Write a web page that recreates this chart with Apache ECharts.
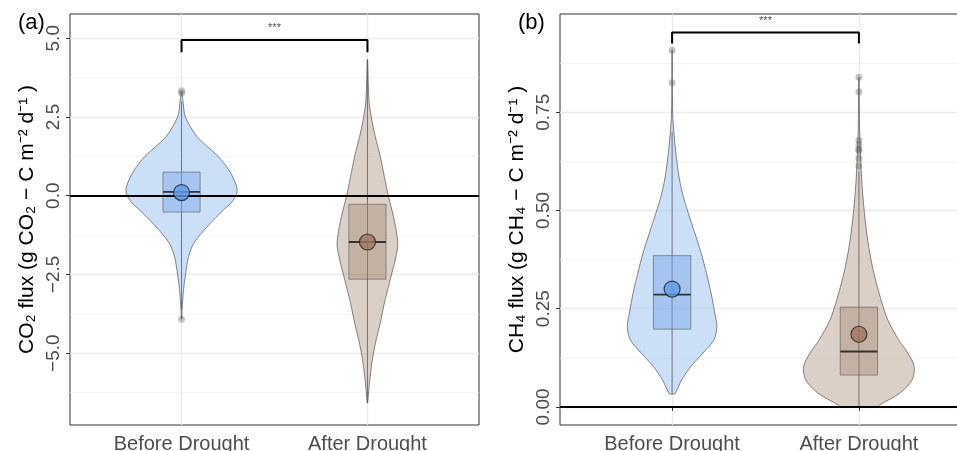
<!DOCTYPE html>
<html>
<head>
<meta charset="utf-8">
<script src="https://cdn.jsdelivr.net/npm/echarts@6/dist/echarts.min.js"></script>
<style>
  html, body { margin: 0; padding: 0; background: #fff; }
  #main { width: 957px; height: 451px; }
</style>
</head>
<body>
<div id="main"></div>
<script>
// categories
var categories = ['Before Drought', 'After Drought'];

// y axis ticks (major + minor grid)
var co2Ticks = [-5, -2.5, 0, 2.5, 5];
var co2MinorTicks = [-6.25, -3.75, -1.25, 1.25, 3.75];
var ch4Ticks = [0, 0.25, 0.5, 0.75];
var ch4MinorTicks = [0.125, 0.375, 0.625, 0.875];

// violin profiles: [flux value, half width in category units]
var co2BeforeDensity = [[3.3, 0.001], [3.0, 0.008], [2.52, 0.020], [1.88, 0.083], [1.25, 0.197], [0.83, 0.253],
  [0.5, 0.283], [0.24, 0.298], [0.05, 0.296], [-0.22, 0.268], [-0.44, 0.228], [-0.97, 0.140], [-1.5, 0.067],
  [-1.93, 0.038], [-2.56, 0.020], [-2.98, 0.011], [-3.62, 0.003], [-3.92, 0.001]];
var co2AfterDensity = [[4.32, 0.001], [3.05, 0.008], [2.52, 0.020], [1.88, 0.042], [1.25, 0.069], [0.61, 0.091],
  [-0.02, 0.113], [-0.66, 0.140], [-1.29, 0.160], [-1.61, 0.163], [-2.14, 0.145], [-2.77, 0.118],
  [-3.41, 0.091], [-4.04, 0.069], [-4.68, 0.043], [-5.31, 0.024], [-5.95, 0.011], [-6.58, 0.001]];
var ch4BeforeDensity = [[0.908, 0.001], [0.75, 0.003], [0.679, 0.013], [0.595, 0.034], [0.544, 0.055],
  [0.493, 0.087], [0.442, 0.122], [0.391, 0.156], [0.340, 0.184], [0.289, 0.209], [0.238, 0.229],
  [0.204, 0.240], [0.170, 0.223], [0.137, 0.165], [0.103, 0.101], [0.069, 0.052], [0.035, 0.018], [0.033, 0.014]];
var ch4AfterDensity = [[0.839, 0.001], [0.70, 0.004], [0.578, 0.015], [0.501, 0.028], [0.425, 0.047],
  [0.349, 0.076], [0.272, 0.119], [0.221, 0.155], [0.170, 0.214], [0.137, 0.262], [0.103, 0.296],
  [0.069, 0.285], [0.035, 0.219], [0.005, 0.111], [0.0, 0.10]];

// box stats: [x, low whisker, Q1, median, Q3, high whisker]
var co2Box = [[1, -3.62, -0.52, 0.12, 0.75, 3.0], [2, -6.58, -2.65, -1.47, -0.27, 4.32]];
var ch4Box = [[1, 0.033, 0.198, 0.286, 0.385, 0.70], [2, 0.0, 0.081, 0.141, 0.254, 0.60]];

// means
var co2Mean = [[1, 0.10], [2, -1.47]];
var ch4Mean = [[1, 0.300], [2, 0.185]];

// outliers
var co2Outliers = [[1, 3.25], [1, 3.33], [1, -3.92]];
var ch4Outliers = [[1, 0.908], [1, 0.825], [2, 0.839], [2, 0.802], [2, 0.679], [2, 0.667], [2, 0.656],
  [2, 0.652], [2, 0.633], [2, 0.613]];

// significance brackets
var co2Bracket = [[1, 4.556], [1, 4.946], [2, 4.946], [2, 4.556]];
var ch4Bracket = [[1, 0.925], [1, 0.953], [2, 0.953], [2, 0.925]];
var co2Star = [[1.5, 4.946]];
var ch4Star = [[1.5, 0.953]];

var violinFill = ['rgba(160,196,240,0.55)', 'rgba(190,170,155,0.55)'];
var boxFill = ['rgba(120,165,230,0.45)', 'rgba(160,130,110,0.4)'];
var meanFill = ['#5f9be6', '#9e7660'];

var chart = echarts.init(document.getElementById('main'));

function violinRender(profiles) {
	return function (params, api) {
		var x = api.value(0);
		var prof = profiles[params.dataIndex];
		var right = [], left = [];
		for (var i = 0; i < prof.length; i++) {
			right.push(api.coord([x + prof[i][1], prof[i][0]]));
			left.unshift(api.coord([x - prof[i][1], prof[i][0]]));
		}
		return {
			type: 'polygon',
			shape: { points: right.concat(left), smooth: 0.3 },
			style: { fill: violinFill[params.dataIndex], stroke: 'rgba(70,70,70,0.8)', lineWidth: 0.8 }
		};
	};
}

function boxRender(params, api) {
	var x = api.value(0);
	var w = 0.1;
	var lo = api.coord([x, api.value(1)]);
	var hi = api.coord([x, api.value(5)]);
	var q1l = api.coord([x - w, api.value(2)]);
	var q3r = api.coord([x + w, api.value(4)]);
	var ml = api.coord([x - w, api.value(3)]);
	var mr = api.coord([x + w, api.value(3)]);
	return {
		type: 'group',
		children: [{
			type: 'line',
			shape: { x1: lo[0], y1: lo[1], x2: hi[0], y2: hi[1] },
			style: { stroke: 'rgba(80,80,80,0.7)', lineWidth: 1 }
		}, {
			type: 'rect',
			shape: { x: q1l[0], y: q3r[1], width: q3r[0] - q1l[0], height: q1l[1] - q3r[1] },
			style: { fill: boxFill[params.dataIndex], stroke: 'rgba(80,80,80,0.55)', lineWidth: 1 }
		}, {
			type: 'line',
			shape: { x1: ml[0], y1: ml[1], x2: mr[0], y2: mr[1] },
			style: { stroke: '#333', lineWidth: 1.8 }
		}]
	};
}

function xAxisCfg(idx) {
	return {
		type: 'value', gridIndex: idx, min: 0.4, max: 2.6,
		axisLine: { show: false },
		axisTick: { show: true, length: 4, customValues: [1, 2], lineStyle: { color: '#333' } },
		axisLabel: {
			customValues: [1, 2], margin: 9, color: '#4d4d4d', fontSize: 20,
			fontFamily: 'Liberation Sans',
			formatter: function (v) { return categories[Math.round(v) - 1]; }
		},
		splitLine: { show: true, lineStyle: { color: '#ebebeb', width: 1.3 } }
	};
}

function yAxisCfg(idx, min, max, ticks, name, digits) {
	return {
		type: 'value', gridIndex: idx, min: min, max: max,
		name: name, nameLocation: 'middle', nameGap: 32, nameRotate: 90,
		nameTextStyle: { color: '#000', fontSize: 21, fontFamily: 'Liberation Sans' },
		axisLine: { show: false },
		axisTick: { show: true, length: 4, customValues: ticks, lineStyle: { color: '#333' } },
		axisLabel: {
			customValues: ticks, rotate: 90, margin: 7, color: '#4d4d4d', fontSize: 19,
			fontFamily: 'Liberation Sans',
			formatter: function (v) { return v.toFixed(digits).replace('-', '\u2212'); }
		},
		splitLine: { show: true, lineStyle: { color: '#ebebeb', width: 1.3 } }
	};
}

function minorAxisCfg(idx, min, max, ticks) {
	return {
		type: 'value', gridIndex: idx, min: min, max: max, position: 'left',
		axisLine: { show: false },
		axisTick: { show: false, customValues: ticks },
		axisLabel: { show: false, customValues: ticks },
		splitLine: { show: true, lineStyle: { color: '#f3f3f3', width: 0.8 } }
	};
}

function panelSeries(xi, yi, density, box, mean, outliers, bracket, star) {
	return [{
		type: 'custom', xAxisIndex: xi, yAxisIndex: yi, z: 2,
		renderItem: violinRender(density),
		data: [[1, 0], [2, 0]]
	}, {
		type: 'custom', xAxisIndex: xi, yAxisIndex: yi, z: 3,
		renderItem: boxRender,
		encode: { x: 0, y: [1, 2, 3, 4, 5] },
		data: box
	}, {
		type: 'line', xAxisIndex: xi, yAxisIndex: yi, z: 4,
		data: bracket, symbol: 'none',
		lineStyle: { color: '#000', width: 2 },
		markLine: {
			silent: true, symbol: 'none', label: { show: false },
			lineStyle: { color: '#000', width: 2, type: 'solid' },
			data: [{ yAxis: 0 }]
		}
	}, {
		type: 'scatter', xAxisIndex: xi, yAxisIndex: yi, z: 4,
		data: star, symbolSize: 0,
		label: { show: true, position: 'top', distance: 6, formatter: '***', color: '#222', fontSize: 11 }
	}, {
		type: 'scatter', xAxisIndex: xi, yAxisIndex: yi, z: 5,
		data: outliers, symbolSize: 7,
		itemStyle: { color: 'rgba(90,90,90,0.45)' }
	}, {
		type: 'scatter', xAxisIndex: xi, yAxisIndex: yi, z: 6,
		data: mean, symbolSize: 16,
		itemStyle: {
			color: function (p) { return meanFill[p.dataIndex]; },
			borderColor: '#222', borderWidth: 1.2
		}
	}];
}

chart.setOption({
	animation: false,
	backgroundColor: '#fff',
	title: [
		{ text: '(a)', left: 13, top: 7, textStyle: { fontSize: 22, fontWeight: 'normal', color: '#000', fontFamily: 'Liberation Sans' } },
		{ text: '(b)', left: 513, top: 7, textStyle: { fontSize: 22, fontWeight: 'normal', color: '#000', fontFamily: 'Liberation Sans' } }
	],
	grid: [
		{ left: 70, top: 14, width: 409, height: 411, outerBoundsMode: 'none', show: true, borderColor: '#333', borderWidth: 1, backgroundColor: 'transparent' },
		{ left: 560, top: 14, width: 411, height: 411, outerBoundsMode: 'none', show: true, borderColor: '#333', borderWidth: 1, backgroundColor: 'transparent' }
	],
	xAxis: [xAxisCfg(0), xAxisCfg(1)],
	yAxis: [
		yAxisCfg(0, -7.28, 5.77, co2Ticks, 'CO\u2082 flux (g CO\u2082 \u2212 C m\u207B\u00B2 d\u207B\u00B9 )', 1),
		minorAxisCfg(0, -7.28, 5.77, co2MinorTicks),
		yAxisCfg(1, -0.046, 1.0, ch4Ticks, 'CH\u2084 flux (g CH\u2084 \u2212 C m\u207B\u00B2 d\u207B\u00B9 )', 2),
		minorAxisCfg(1, -0.046, 1.0, ch4MinorTicks)
	],
	series: panelSeries(0, 0, [co2BeforeDensity, co2AfterDensity], co2Box, co2Mean, co2Outliers, co2Bracket, co2Star)
		.concat(panelSeries(1, 2, [ch4BeforeDensity, ch4AfterDensity], ch4Box, ch4Mean, ch4Outliers, ch4Bracket, ch4Star))
});
</script>
</body>
</html>
